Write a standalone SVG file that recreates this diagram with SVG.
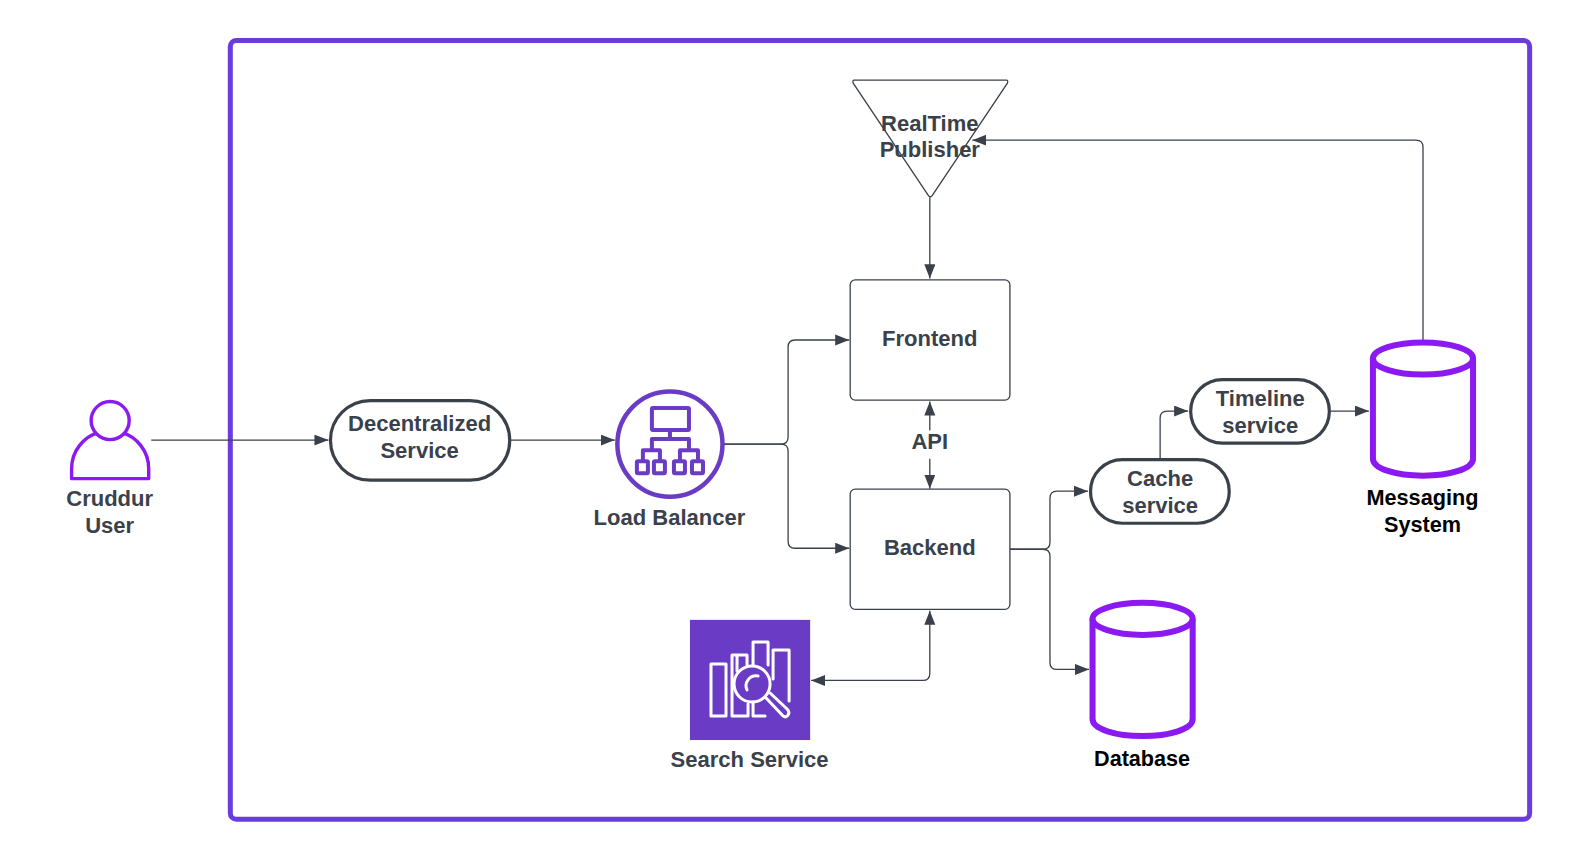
<svg xmlns="http://www.w3.org/2000/svg" width="1570" height="860" viewBox="0 0 1570 860">
<style>
text{font-family:"Liberation Sans",Arial,sans-serif;font-weight:700;font-size:22px;fill:#3a414a;text-anchor:middle}
.k{fill:#000}
.box{fill:#fff;stroke:#3a414a;stroke-width:1.3}
.pill{fill:#fff;stroke:#3a414a;stroke-width:3.2}
.pv{fill:#fff;stroke:#8a19f2;stroke-width:3.4;stroke-linejoin:round}
.cyl{fill:#fff;stroke:#8a19f2;stroke-width:6}
.lb{fill:none;stroke:#6a3cc6;stroke-width:4;stroke-linejoin:round}
.se{fill:none;stroke:#fff;stroke-width:3;stroke-linejoin:round;stroke-linecap:round}
.c{fill:none;stroke:#3a414a;stroke-width:1.3}
</style>
<defs>
<marker id="a" markerUnits="userSpaceOnUse" markerWidth="16" markerHeight="12" refX="14" refY="5.5" orient="auto-start-reverse" viewBox="0 0 16 12"><path d="M0 0L14 5.5L0 11Z" fill="#3a414a"/></marker>
</defs>
<g transform="scale(1.0014)">
<rect id="frame" x="230" y="40.500" width="1297.500" height="777.500" rx="6" fill="#fff" stroke="#6a3ce0" stroke-width="5"/>
<g id="connectors">
<path class="c" marker-end="url(#a)" d="M151 439.500H328"/>
<path class="c" marker-end="url(#a)" d="M510 439.500H614"/>
<path class="c" marker-end="url(#a)" d="M723 443.500H780Q787 443.500 787 436.500V346.500Q787 339.500 794 339.500H848"/>
<path class="c" marker-end="url(#a)" d="M723 443.500H780Q787 443.500 787 450.500V540.500Q787 547.500 794 547.500H848"/>
<path class="c" marker-end="url(#a)" d="M928.500 197V278"/>
<path class="c" marker-end="url(#a)" d="M928.500 430V401"/>
<path class="c" marker-end="url(#a)" d="M928.500 458V488"/>
<path class="c" marker-start="url(#a)" marker-end="url(#a)" d="M810 679.500H921.500Q928.500 679.500 928.500 672.500V610"/>
<path class="c" marker-end="url(#a)" d="M1008.500 548.500H1041.500Q1048.500 548.500 1048.500 541.500V497.500Q1048.500 490.500 1055.500 490.500H1086.500"/>
<path class="c" marker-end="url(#a)" d="M1008.500 548.500H1041.500Q1048.500 548.500 1048.500 555.500V661.500Q1048.500 668.500 1055.500 668.500H1087.500"/>
<path class="c" marker-end="url(#a)" d="M1158.500 459V417.500Q1158.500 410.500 1165.500 410.500H1186.500"/>
<path class="c" marker-end="url(#a)" d="M1329 410.500H1367"/>
<path class="c" marker-end="url(#a)" d="M1421 342V147Q1421 140 1414 140H971"/>
</g>
<g id="user">
<path class="pv" d="M71.500 478V468C71.500 450 84 436 98 432H122C136 436 148.500 450 148.500 468V478Z"/>
<circle class="pv" cx="110" cy="420" r="19"/>
<text x="109.500" y="505.500">Cruddur</text><text x="109.500" y="532.500">User</text>
</g>
<g id="decentralized">
<rect class="pill" x="330" y="400" width="179" height="79.500" rx="39.750"/>
<text x="419" y="430.500">Decentralized</text><text x="419" y="457.500">Service</text>
</g>
<g id="loadbalancer">
<circle cx="669" cy="443.500" r="52.500" fill="#fff" stroke="#6a3cc6" stroke-width="4.500"/>
<rect class="lb" x="651" y="407.500" width="37" height="22" rx="1"/>
<path class="lb" d="M669 429.500V438.500M651 449.500V438.500H688V449.500M642 460.500V449.500H659V460.500M679 460.500V449.500H697V460.500"/>
<rect class="lb" x="636" y="460.500" width="11" height="12" rx="1"/><rect class="lb" x="653" y="460.500" width="11" height="12" rx="1"/><rect class="lb" x="673" y="460.500" width="11" height="12" rx="1"/><rect class="lb" x="691" y="460.500" width="11" height="12" rx="1"/>
<text x="668.500" y="524.500">Load Balancer</text>
</g>
<g id="publisher">
<path d="M853 80H1005Q1007 80 1006 83L931 195Q929 198 927 195L852 83Q851 80 853 80Z" fill="#fff" stroke="#3a414a" stroke-width="1.300"/>
<text x="928.500" y="131">RealTime</text><text x="928.500" y="157">Publisher</text>
</g>
<g id="frontend"><rect class="box" x="849" y="279.500" width="159.500" height="120" rx="5"/><text x="928.500" y="345.500">Frontend</text></g>
<g id="backend"><rect class="box" x="849" y="488.500" width="159.500" height="120" rx="5"/><text x="928.500" y="554.500">Backend</text></g>
<g id="api"><text x="928.500" y="448.500">API</text></g>
<g id="cache"><rect class="pill" x="1089" y="459" width="138.500" height="63.500" rx="31.750"/><text x="1158.500" y="485.500">Cache</text><text x="1158.500" y="512.500">service</text></g>
<g id="timeline"><rect class="pill" x="1189" y="379" width="138.500" height="63.500" rx="31.750"/><text x="1258.500" y="405.500">Timeline</text><text x="1258.500" y="432.500">service</text></g>
<g id="messaging">
<path class="cyl" d="M1371 358V458C1371 468 1394 475 1421 475S1471 468 1471 458V358"/>
<ellipse class="cyl" cx="1421" cy="358" rx="50" ry="16"/>
<text class="k" x="1420.500" y="504.500" textLength="112" lengthAdjust="spacingAndGlyphs">Messaging</text><text class="k" x="1420.500" y="531.500" textLength="77" lengthAdjust="spacingAndGlyphs">System</text>
</g>
<g id="database">
<path class="cyl" d="M1091 618V718C1091 728 1114 735 1141 735S1191 728 1191 718V618"/>
<ellipse class="cyl" cx="1141" cy="618" rx="50" ry="16"/>
<text class="k" x="1140.500" y="764.500" textLength="96" lengthAdjust="spacingAndGlyphs">Database</text>
</g>
<g id="search">
<rect x="689" y="619" width="120" height="120" fill="#6a3cc6"/>
<path class="se" d="M710 663H725V715H710Z"/>
<path class="se" d="M736 670V654H731V715H747V703M731 654H746V664"/>
<path class="se" d="M752 664V641H767V664M752 701V715H764"/>
<path class="se" d="M772 678V649H788V700"/>
<circle class="se" cx="751" cy="683" r="18"/>
<path class="se" d="M746 689A10 10 0 0 1 757 675"/>
<path class="se" d="M765 697L782 715Q785 717 787 714Q789 711 786 708L769 692"/>
<text x="748.500" y="765.500">Search Service</text>
</g>
</g>
</svg>
